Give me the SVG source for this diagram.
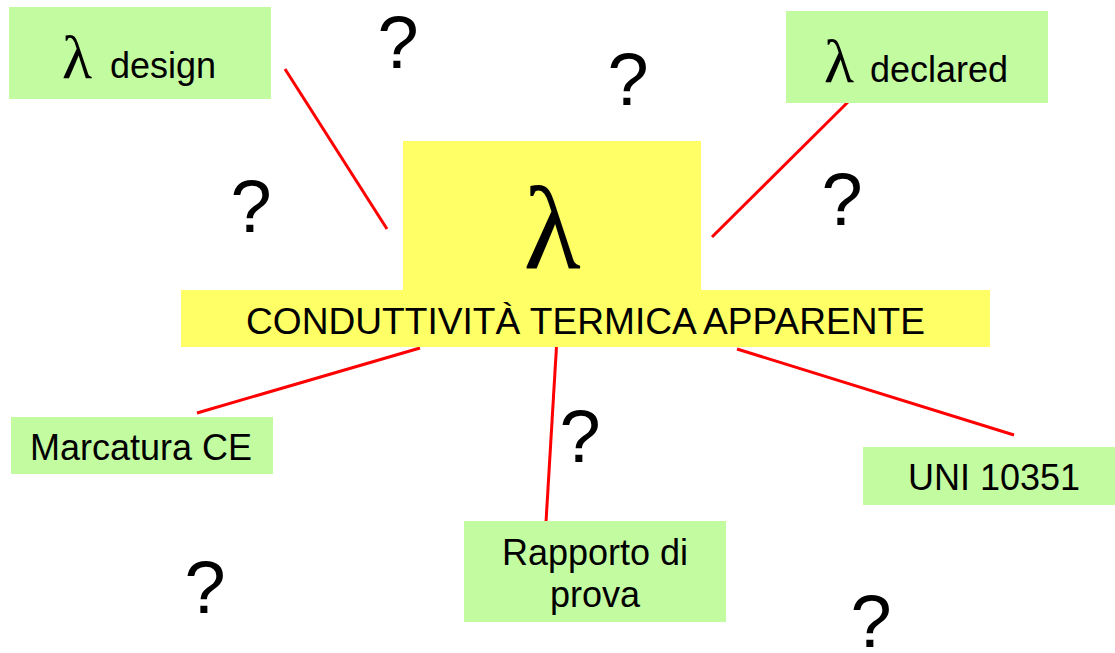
<svg xmlns="http://www.w3.org/2000/svg" width="1115" height="653" viewBox="0 0 1115 653">
<style>
.g{fill:#C3FBA1}
.y{fill:#FFFF66}
.t{font-family:"Liberation Sans",Arial,sans-serif;font-size:36px;fill:#000}
.l{font-family:"Liberation Serif","Times New Roman",serif;fill:#000}
.q{font-family:"Liberation Sans",Arial,sans-serif;font-size:74px;fill:#000;text-anchor:middle}
.c{stroke:#FF0000;stroke-width:3;fill:none}
</style>
<rect width="1115" height="653" fill="#fff"/>
<g id="connectors">
<line class="c" x1="285" y1="69" x2="387" y2="229"/>
<line class="c" x1="852" y1="98" x2="712" y2="237"/>
<line class="c" x1="420" y1="348" x2="197" y2="413"/>
<line class="c" x1="557" y1="338" x2="546" y2="522"/>
<line class="c" x1="737" y1="349" x2="1014" y2="435"/>
</g>
<g id="center">
<rect class="y" x="403" y="141" width="298" height="150"/>
<rect class="y" x="181" y="290" width="809" height="57"/>
<text class="l" x="552" y="268" font-size="118" text-anchor="middle">λ</text>
<text class="t" x="246" y="334" font-size="39" textLength="679" lengthAdjust="spacingAndGlyphs">CONDUTTIVITÀ TERMICA APPARENTE</text>
</g>
<g id="design">
<rect class="g" x="9" y="7" width="262" height="92"/>
<text class="l" x="62" y="78" font-size="62">λ</text>
<text class="t" x="110" y="78">design</text>
</g>
<g id="declared">
<rect class="g" x="786" y="11" width="262" height="92"/>
<text class="l" x="824" y="82" font-size="62">λ</text>
<text class="t" x="870" y="82">declared</text>
</g>
<g id="marcatura">
<rect class="g" x="11" y="417" width="262" height="57"/>
<text class="t" x="30" y="460">Marcatura CE</text>
</g>
<g id="rapporto">
<rect class="g" x="464" y="521" width="262" height="101"/>
<text class="t" x="595" y="565" text-anchor="middle">Rapporto di</text>
<text class="t" x="595" y="607" text-anchor="middle">prova</text>
</g>
<g id="uni">
<rect class="g" x="863" y="447" width="252" height="58"/>
<text class="t" x="908" y="490">UNI 10351</text>
</g>
<g id="questions">
<text class="q" x="398" y="68">?</text>
<text class="q" x="628" y="105">?</text>
<text class="q" x="251" y="232">?</text>
<text class="q" x="842" y="225">?</text>
<text class="q" x="580" y="462">?</text>
<text class="q" x="205" y="613">?</text>
<text class="q" x="871" y="647">?</text>
</g>
</svg>
